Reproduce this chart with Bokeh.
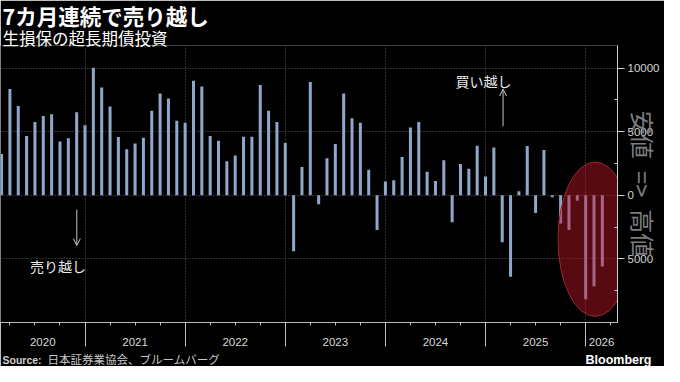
import pandas as pd
from bokeh.plotting import figure
from bokeh.models import (FixedTicker, Label, Arrow, OpenHead, Range1d, Title,
                          LinearAxis, CustomJSTickFormatter)
from bokeh.embed import file_html
from bokeh.resources import INLINE

# ---------------- data ----------------
title_text = "7カ月連続で売り越し"
subtitle_text = "生損保の超長期債投資"
source_label = "Source:"
source_text = "日本証券業協会、ブルームバーグ"
axis_label_text = "安値\u2002=>\u2002高値"
buy_text = "買い越し"
sell_text = "売り越し"
brand_text = "Bloomberg"

months = [p.strftime("%Y-%m") for p in pd.period_range("2020-02", "2026-02", freq="M")]
values = [3250, 8350, 7025, 4650, 5750, 6225, 6375, 4225, 4475, 6525, 5500,
          10025, 8475, 6975, 4575, 3625, 4075, 4525, 6650, 8000, 7600, 5850, 5700,
          9000, 8550, 4650, 4275, 2675, 3125, 4600, 4600, 8675, 6650, 5750, 4100,
          -4400, 2225, 8900, -700, 2900, 4025, 8000, 6050, 5700, 2000, -2725, 1075,
          1175, 3000, 5325, 5750, 1850, 1125, 2750, -2125, 2450, 2075, 3900, 1475,
          3750, -3700, -6400, 325, 3875, -1400, 3550, -150, -2225, -2725, -425,
          -8175, -7150, -5600]
years = [2020, 2021, 2022, 2023, 2024, 2025, 2026]
y_ticks = [-5000, 0, 5000, 10000]
y_tick_labels = ["5000", "0", "5000", "10000"]
y_minor = [-7500, -2500, 2500, 7500]

# annotation anchors (data units: fractional year, value)
ellipse_center = (2026.094, -3450)
ellipse_size = (0.74, 12150)
buy_arrow = (2025.175, 5420, 8343)
buy_label = (2024.979, 8995)
sell_arrow = (2020.918, -1125, -3950)
sell_label = (2020.730, -5525)

# ---------------- derived positions ----------------
def month_pos(m):
    y, mo = m.split("-")
    return int(y) + int(mo) / 12.0  # month-end position

xs = [month_pos(m) for m in months]
X0, X1 = 2020.156, 2026.318
Y0, Y1 = -10000, 11770

JP = "Noto Sans CJK JP"
LAT = "Liberation Sans"

p = figure(width=664, height=366, output_backend="svg", toolbar_location=None,
           title=None, x_range=Range1d(X0, X1), y_range=Range1d(Y0, Y1),
           y_axis_location="right", min_border_left=0, min_border_right=47,
           min_border_top=0, min_border_bottom=0,
           background_fill_color="black", border_fill_color="black")
p.outline_line_color = None

# grids
for g in (p.xgrid, p.ygrid):
    g.grid_line_color = "#5c5c5c"
    g.grid_line_dash = "1 2"
    g.grid_line_width = 1

# bars
p.vbar(x=xs, top=values, bottom=0, width=0.36 / 12, fill_color="#8ea7cb",
       line_color=None)

# highlight ellipse
p.ellipse(x=[ellipse_center[0]], y=[ellipse_center[1]], width=ellipse_size[0],
          height=ellipse_size[1], fill_color="#c4162a", fill_alpha=0.45,
          line_color="#9a2630", line_width=1)

# right axis
ya = p.yaxis[0]
ya.ticker = FixedTicker(ticks=y_ticks, minor_ticks=y_minor)
ya.major_label_overrides = {t: l for t, l in zip(y_ticks, y_tick_labels)}
ya.axis_line_color = "#cfcfcf"
ya.major_tick_line_color = "#cfcfcf"
ya.minor_tick_line_color = "#cfcfcf"
ya.major_tick_in = 0
ya.major_tick_out = 7
ya.minor_tick_in = 3
ya.minor_tick_out = 0
ya.major_label_standoff = 3
ya.major_label_text_font = LAT
ya.major_label_text_font_size = "11.5px"
ya.major_label_text_color = "#d6d6d6"
ya.axis_label = axis_label_text
ya.axis_label_text_font = JP
ya.axis_label_text_font_size = "24px"
ya.axis_label_text_font_style = "normal"
ya.axis_label_text_color = "#7e7e7e"
ya.axis_label_standoff = -36

# bottom axis: year separators and quarter ticks
xa = p.xaxis[0]
boundaries = years[1:]
quarters = [y + q / 4 for y in years for q in range(1, 4) if X0 < y + q / 4 < X1]
xa.ticker = FixedTicker(ticks=boundaries, minor_ticks=quarters)
xa.formatter = CustomJSTickFormatter(code="return ''")
xa.axis_line_color = "#bdbdbd"
xa.major_tick_line_color = "#bdbdbd"
xa.minor_tick_line_color = "#bdbdbd"
xa.major_tick_in = 0
xa.major_tick_out = 24
xa.minor_tick_in = 0
xa.minor_tick_out = 3
xa.major_label_standoff = 0
xa.major_label_text_font_size = "1px"

# second bottom axis: year labels centred on the visible part of each year
year_centers = [(max(y, X0) + min(y + 1, X1)) / 2 for y in years]
xa2 = LinearAxis(ticker=FixedTicker(ticks=year_centers, minor_ticks=[]),
                 formatter=CustomJSTickFormatter(code="return Math.floor(tick).toFixed(0)"),
                 axis_line_color=None, major_tick_line_color=None,
                 minor_tick_line_color=None, major_tick_in=0, major_tick_out=0,
                 major_label_standoff=-9, major_label_text_font=LAT,
                 major_label_text_font_size="11.5px", major_label_text_color="#d9d9d9")
p.add_layout(xa2, "below")

# footer: one row; the first two titles take no height and hang below the axis
p.add_layout(Title(text=brand_text, align="right", text_font=LAT, text_font_size="12.5px",
                   text_font_style="bold", text_color="white", offset=-34,
                   standoff=-37, vertical_align="bottom"), "below")
p.add_layout(Title(text=source_label, align="left", text_font=LAT, text_font_size="10.5px",
                   text_font_style="bold", text_color="#d0d0d0", offset=2,
                   standoff=-34, vertical_align="bottom"), "below")
p.add_layout(Title(text=source_text, align="left", text_font=JP, text_font_size="11.5px",
                   text_font_style="normal", text_color="#c8c8c8", offset=47,
                   standoff=0, vertical_align="bottom"), "below")

# titles (subtitle closest to the plot)
p.add_layout(Title(text=subtitle_text, align="left", text_font=JP, text_font_size="16.5px",
                   text_font_style="normal", text_color="white", offset=2,
                   standoff=-12, vertical_align="top"), "above")
p.add_layout(Title(text=title_text, align="left", text_font=JP, text_font_size="21.5px",
                   text_font_style="bold", text_color="white", offset=2,
                   standoff=-2, vertical_align="top"), "above")

# arrows and their labels
arrow_col = "#c4c4c4"
p.add_layout(Arrow(x_start=buy_arrow[0], y_start=buy_arrow[1], x_end=buy_arrow[0],
                   y_end=buy_arrow[2], line_color=arrow_col, line_width=1,
                   end=OpenHead(size=7, line_color=arrow_col, line_width=1)))
p.add_layout(Arrow(x_start=sell_arrow[0], y_start=sell_arrow[1], x_end=sell_arrow[0],
                   y_end=sell_arrow[2], line_color=arrow_col, line_width=1,
                   end=OpenHead(size=7, line_color=arrow_col, line_width=1)))
p.add_layout(Label(x=buy_label[0], y=buy_label[1], text=buy_text, text_align="center",
                   text_baseline="middle", text_font=JP, text_font_size="14px",
                   text_color="#e8e8e8"))
p.add_layout(Label(x=sell_label[0], y=sell_label[1], text=sell_text, text_align="center",
                   text_baseline="middle", text_font=JP, text_font_size="14px",
                   text_color="#e8e8e8"))

open("out.html", "w").write(file_html(p, INLINE))
